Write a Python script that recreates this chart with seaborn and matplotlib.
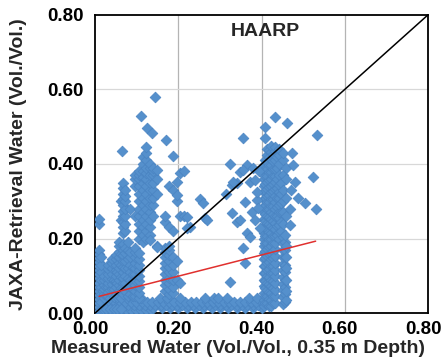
import numpy as np
import pandas as pd
import matplotlib
matplotlib.use("Agg")
import matplotlib.pyplot as plt
import matplotlib.transforms as mtransforms
import seaborn as sns

# ---- data: measured (x) vs retrieved (y) soil water, Vol./Vol. ----
# near-dry band: (retrieved, [measured ...])
band_rows = [
    (0.008, [0.015, 0.027, 0.039, 0.051, 0.063, 0.075, 0.087, 0.099, 0.111, 0.123, 0.135]),
    (0.014, [0.140, 0.160, 0.180, 0.200, 0.220, 0.240, 0.260, 0.280, 0.300, 0.320, 0.340,
             0.360, 0.380, 0.400]),
    (0.021, [0.015, 0.028, 0.041, 0.054, 0.067, 0.080, 0.093, 0.106, 0.119, 0.132, 0.145,
             0.158, 0.171, 0.184, 0.197, 0.210, 0.223, 0.236, 0.249, 0.262, 0.275, 0.288,
             0.301, 0.314, 0.327, 0.340, 0.353, 0.366, 0.379, 0.392, 0.405]),
    (0.030, [0.020, 0.034, 0.047, 0.060, 0.073, 0.086, 0.099, 0.112, 0.125, 0.138, 0.151,
             0.164, 0.177, 0.190, 0.204, 0.217, 0.230, 0.243, 0.256, 0.270, 0.283, 0.296,
             0.309, 0.322, 0.335, 0.348, 0.361, 0.374, 0.387, 0.400]),
    (0.040, [0.025, 0.050, 0.078, 0.110, 0.155, 0.172, 0.205, 0.265, 0.285, 0.295, 0.318,
             0.370, 0.390]),
]

# low-water columns: (measured, [retrieved ...])
dry_cols = [
    (0.009, [0.005, 0.016, 0.027, 0.038, 0.049, 0.060, 0.071, 0.082, 0.093, 0.104, 0.115,
             0.126, 0.137, 0.148, 0.159, 0.168, 0.240, 0.252]),
    (0.014, [0.010, 0.030, 0.050, 0.070, 0.090, 0.110, 0.130, 0.150]),
    (0.020, [0.012, 0.045, 0.060]),
    (0.022, [0.040, 0.052, 0.064, 0.076, 0.088, 0.100]),
    (0.027, [0.010, 0.048, 0.070]),
    (0.032, [0.045, 0.058, 0.070, 0.082, 0.094, 0.106, 0.118, 0.130]),
    (0.036, [0.012, 0.040, 0.062]),
    (0.040, [0.050, 0.064, 0.078, 0.092, 0.106, 0.120, 0.134, 0.146]),
    (0.045, [0.012, 0.042, 0.066, 0.090]),
    (0.050, [0.055, 0.070, 0.085, 0.100, 0.115, 0.130, 0.145, 0.155]),
    (0.054, [0.012, 0.044, 0.080, 0.110]),
    (0.058, [0.045, 0.060, 0.075, 0.090, 0.105, 0.120, 0.135, 0.150, 0.165, 0.180, 0.190]),
    (0.062, [0.012, 0.040, 0.068, 0.098, 0.128, 0.158, 0.250, 0.300]),
    (0.067, [0.050, 0.065, 0.080, 0.095, 0.110, 0.125, 0.140, 0.155, 0.170, 0.185, 0.215,
             0.230, 0.245, 0.260, 0.275, 0.290, 0.305, 0.320, 0.335, 0.350]),
    (0.073, [0.060, 0.080, 0.100, 0.120, 0.140, 0.160, 0.175, 0.220, 0.240, 0.260, 0.280,
             0.300, 0.315, 0.330]),
    (0.079, [0.045, 0.070, 0.095, 0.120, 0.145, 0.170, 0.190]),
    (0.085, [0.050, 0.070, 0.090, 0.110, 0.130, 0.150, 0.165, 0.280]),
    (0.091, [0.045, 0.065, 0.085, 0.105, 0.125]),
]

# mid-water columns: (measured, [retrieved ...])
mid_cols = [
    (0.097, [0.045, 0.060, 0.075, 0.090, 0.105, 0.120, 0.135, 0.150, 0.165, 0.175, 0.260,
             0.340, 0.360, 0.370]),
    (0.106, [0.040, 0.055, 0.070, 0.085, 0.100, 0.115, 0.130, 0.145, 0.160, 0.200, 0.220,
             0.240, 0.260, 0.280, 0.300, 0.320, 0.340, 0.360, 0.370, 0.380]),
    (0.115, [0.190, 0.210, 0.230, 0.250, 0.270, 0.290, 0.310, 0.330, 0.350, 0.365, 0.380,
             0.400, 0.420]),
    (0.123, [0.200, 0.220, 0.240, 0.260, 0.280, 0.300, 0.320, 0.340, 0.360, 0.375, 0.390,
             0.410, 0.430, 0.445]),
    (0.131, [0.210, 0.230, 0.250, 0.270, 0.290, 0.310, 0.330, 0.350, 0.370, 0.390, 0.400]),
    (0.140, [0.260, 0.290, 0.310, 0.330, 0.350, 0.370, 0.380, 0.390]),
    (0.150, [0.180, 0.320, 0.360, 0.385]),
    (0.168, [0.060, 0.075, 0.090, 0.105, 0.120, 0.135, 0.150, 0.165, 0.175, 0.245, 0.260]),
    (0.178, [0.050, 0.065, 0.080, 0.095, 0.110, 0.125, 0.140, 0.155, 0.170, 0.180, 0.230,
             0.340]),
    (0.188, [0.055, 0.070, 0.090, 0.110, 0.130, 0.150, 0.220, 0.330, 0.422]),
    (0.198, [0.090, 0.140, 0.300, 0.317, 0.353]),
    (0.205, [0.080, 0.260, 0.376]),
    (0.213, [0.260, 0.380]),
]

# wet columns: (measured, [retrieved ...])
wet_cols = [
    (0.405, [0.018, 0.036, 0.054, 0.072, 0.090, 0.108, 0.126, 0.144, 0.162, 0.180, 0.198,
             0.216, 0.234, 0.252, 0.270, 0.288, 0.306, 0.324, 0.342, 0.360, 0.378, 0.396]),
    (0.409, [0.027, 0.047, 0.067, 0.087, 0.107, 0.127, 0.147, 0.167, 0.187, 0.207, 0.227,
             0.247, 0.267, 0.287, 0.307, 0.327, 0.347, 0.367, 0.387, 0.410]),
    (0.414, [0.027, 0.045, 0.063, 0.081, 0.099, 0.117, 0.135, 0.153, 0.171, 0.189, 0.207,
             0.225, 0.243, 0.261, 0.279, 0.297, 0.315, 0.333, 0.351, 0.369, 0.387, 0.405,
             0.425, 0.440]),
    (0.418, [0.018, 0.038, 0.058, 0.078, 0.098, 0.118, 0.138, 0.158, 0.178, 0.198, 0.218,
             0.238, 0.258, 0.278, 0.298, 0.318, 0.338, 0.358, 0.378, 0.398, 0.418, 0.438]),
    (0.423, [0.018, 0.036, 0.054, 0.072, 0.090, 0.108, 0.126, 0.144, 0.162, 0.180, 0.198,
             0.216, 0.234, 0.252, 0.270, 0.288, 0.306, 0.324, 0.342, 0.360, 0.378, 0.396,
             0.414, 0.432, 0.448]),
    (0.427, [0.027, 0.047, 0.067, 0.087, 0.107, 0.127, 0.147, 0.167, 0.187, 0.207, 0.227,
             0.247, 0.267, 0.287, 0.307, 0.327, 0.347, 0.367, 0.387, 0.407, 0.427]),
    (0.432, [0.027, 0.045, 0.063, 0.081, 0.099, 0.117, 0.135, 0.153, 0.171, 0.189, 0.207,
             0.225, 0.243, 0.261, 0.279, 0.297, 0.315, 0.333, 0.351, 0.369, 0.387, 0.410,
             0.435, 0.445]),
    (0.437, [0.210, 0.235, 0.260, 0.285, 0.310, 0.335, 0.360, 0.390, 0.420]),
    (0.442, [0.200, 0.218, 0.236, 0.254, 0.272, 0.290, 0.308, 0.326, 0.344, 0.370, 0.400,
             0.425, 0.440]),
    (0.447, [0.220, 0.245, 0.270, 0.295, 0.320, 0.350]),
    (0.452, [0.025, 0.043, 0.061, 0.079, 0.097, 0.115, 0.133, 0.151, 0.169, 0.187, 0.205,
             0.240, 0.270, 0.300, 0.330, 0.370, 0.410, 0.430]),
    (0.456, [0.030, 0.050, 0.070, 0.090, 0.110, 0.130, 0.150, 0.170, 0.190, 0.210]),
    (0.459, [0.035, 0.060, 0.090, 0.120, 0.150, 0.180, 0.260, 0.310, 0.360, 0.390]),
]

# isolated readings
scatter_x = [0.065, 0.110, 0.144, 0.125, 0.137, 0.170, 0.149, 0.132, 0.220, 0.228, 0.221,
             0.252, 0.260, 0.264, 0.269, 0.315, 0.325, 0.356, 0.365, 0.349, 0.355, 0.341,
             0.330, 0.373, 0.385, 0.360, 0.389, 0.330, 0.341, 0.348, 0.377, 0.385, 0.365,
             0.373, 0.356, 0.360, 0.389, 0.392, 0.397, 0.325, 0.332, 0.395, 0.380,
             0.409, 0.433, 0.462, 0.476, 0.524, 0.480, 0.488, 0.505, 0.531, 0.469, 0.473,
             0.533, 0.409, 0.470, 0.468]
scatter_y = [0.435, 0.530, 0.580, 0.497, 0.483, 0.465, 0.178, 0.196, 0.258, 0.232, 0.228,
             0.306, 0.296, 0.255, 0.250, 0.320, 0.400, 0.470, 0.398, 0.379, 0.385, 0.349,
             0.344, 0.352, 0.357, 0.298, 0.304, 0.269, 0.245, 0.250, 0.272, 0.250, 0.215,
             0.204, 0.175, 0.134, 0.325, 0.282, 0.228, 0.084, 0.352, 0.380, 0.390,
             0.500, 0.527, 0.510, 0.398, 0.365, 0.352, 0.309, 0.296, 0.280, 0.237, 0.430,
             0.478, 0.470, 0.330, 0.280]

# fitted regression and 1:1 reference
fit_x = [0.010, 0.530]
fit_y = [0.045, 0.193]
one_to_one = [0.0, 0.8]

ticks = [0.0, 0.2, 0.4, 0.6, 0.8]
tick_labels = ["0.00", "0.20", "0.40", "0.60", "0.80"]

# ---- assemble ----
xs, ys = [], []
for yv, xl in band_rows:
    xs += xl
    ys += [yv] * len(xl)
for group in (dry_cols, mid_cols, wet_cols):
    for xv, yl in group:
        xs += [xv] * len(yl)
        ys += yl
xs += scatter_x
ys += scatter_y
df = pd.DataFrame({"measured": xs, "retrieved": ys})

sns.set_theme(style="white")
plt.rcParams["font.family"] = ["Liberation Sans", "DejaVu Sans"]

fig = plt.figure(figsize=(4.44, 3.62), dpi=100)
ax = fig.add_axes([0.214, 0.135, 0.750, 0.824])

sns.scatterplot(data=df, x="measured", y="retrieved", marker="D", s=30,
                color="#5590CC", edgecolor="#4A84C2", linewidth=0.5, ax=ax,
                zorder=3)
sns.lineplot(x=one_to_one, y=one_to_one, color="black", linewidth=1.1, ax=ax,
             zorder=4)
sns.lineplot(x=fit_x, y=fit_y, color="#E0302E", linewidth=1.1, ax=ax, zorder=4)

ax.set_xlim(0, 0.8)
ax.set_ylim(0, 0.8)
ax.set_xticks(ticks)
ax.set_yticks(ticks)
ax.set_xticklabels(tick_labels)
ax.set_yticklabels(tick_labels)
ax.tick_params(axis="both", length=0, labelsize=13.5, colors="black")
ax.tick_params(axis="y", pad=8)
ax.tick_params(axis="x", pad=6)
shift_left = mtransforms.ScaledTranslation(-5 / 100, 0, fig.dpi_scale_trans)
for lab in ax.get_xticklabels():
    lab.set_fontweight("bold")
    lab.set_transform(lab.get_transform() + shift_left)
for lab in ax.get_yticklabels():
    lab.set_fontweight("bold")

for v in ticks[1:-1]:
    ax.axvline(v, color="#B4B4B4", linewidth=0.9, zorder=1)
    ax.axhline(v, color="#D8D8D8", linewidth=0.9, zorder=1)

for sp in ax.spines.values():
    sp.set_visible(True)
    sp.set_color("black")
    sp.set_linewidth(1.3)

ax.set_xlabel("Measured Water (Vol./Vol., 0.35 m Depth)", fontsize=14,
              fontweight="bold")
ax.xaxis.set_label_coords(0.43, -0.09)
ax.set_ylabel("JAXA-Retrieval Water (Vol./Vol.)", fontsize=14,
              fontweight="bold")
ax.yaxis.set_label_coords(-0.205, 0.5)
ax.text(0.41, 0.755, "HAARP", ha="center", va="center", fontsize=14,
        fontweight="bold", zorder=5)

fig.savefig("out.png", dpi=100)
